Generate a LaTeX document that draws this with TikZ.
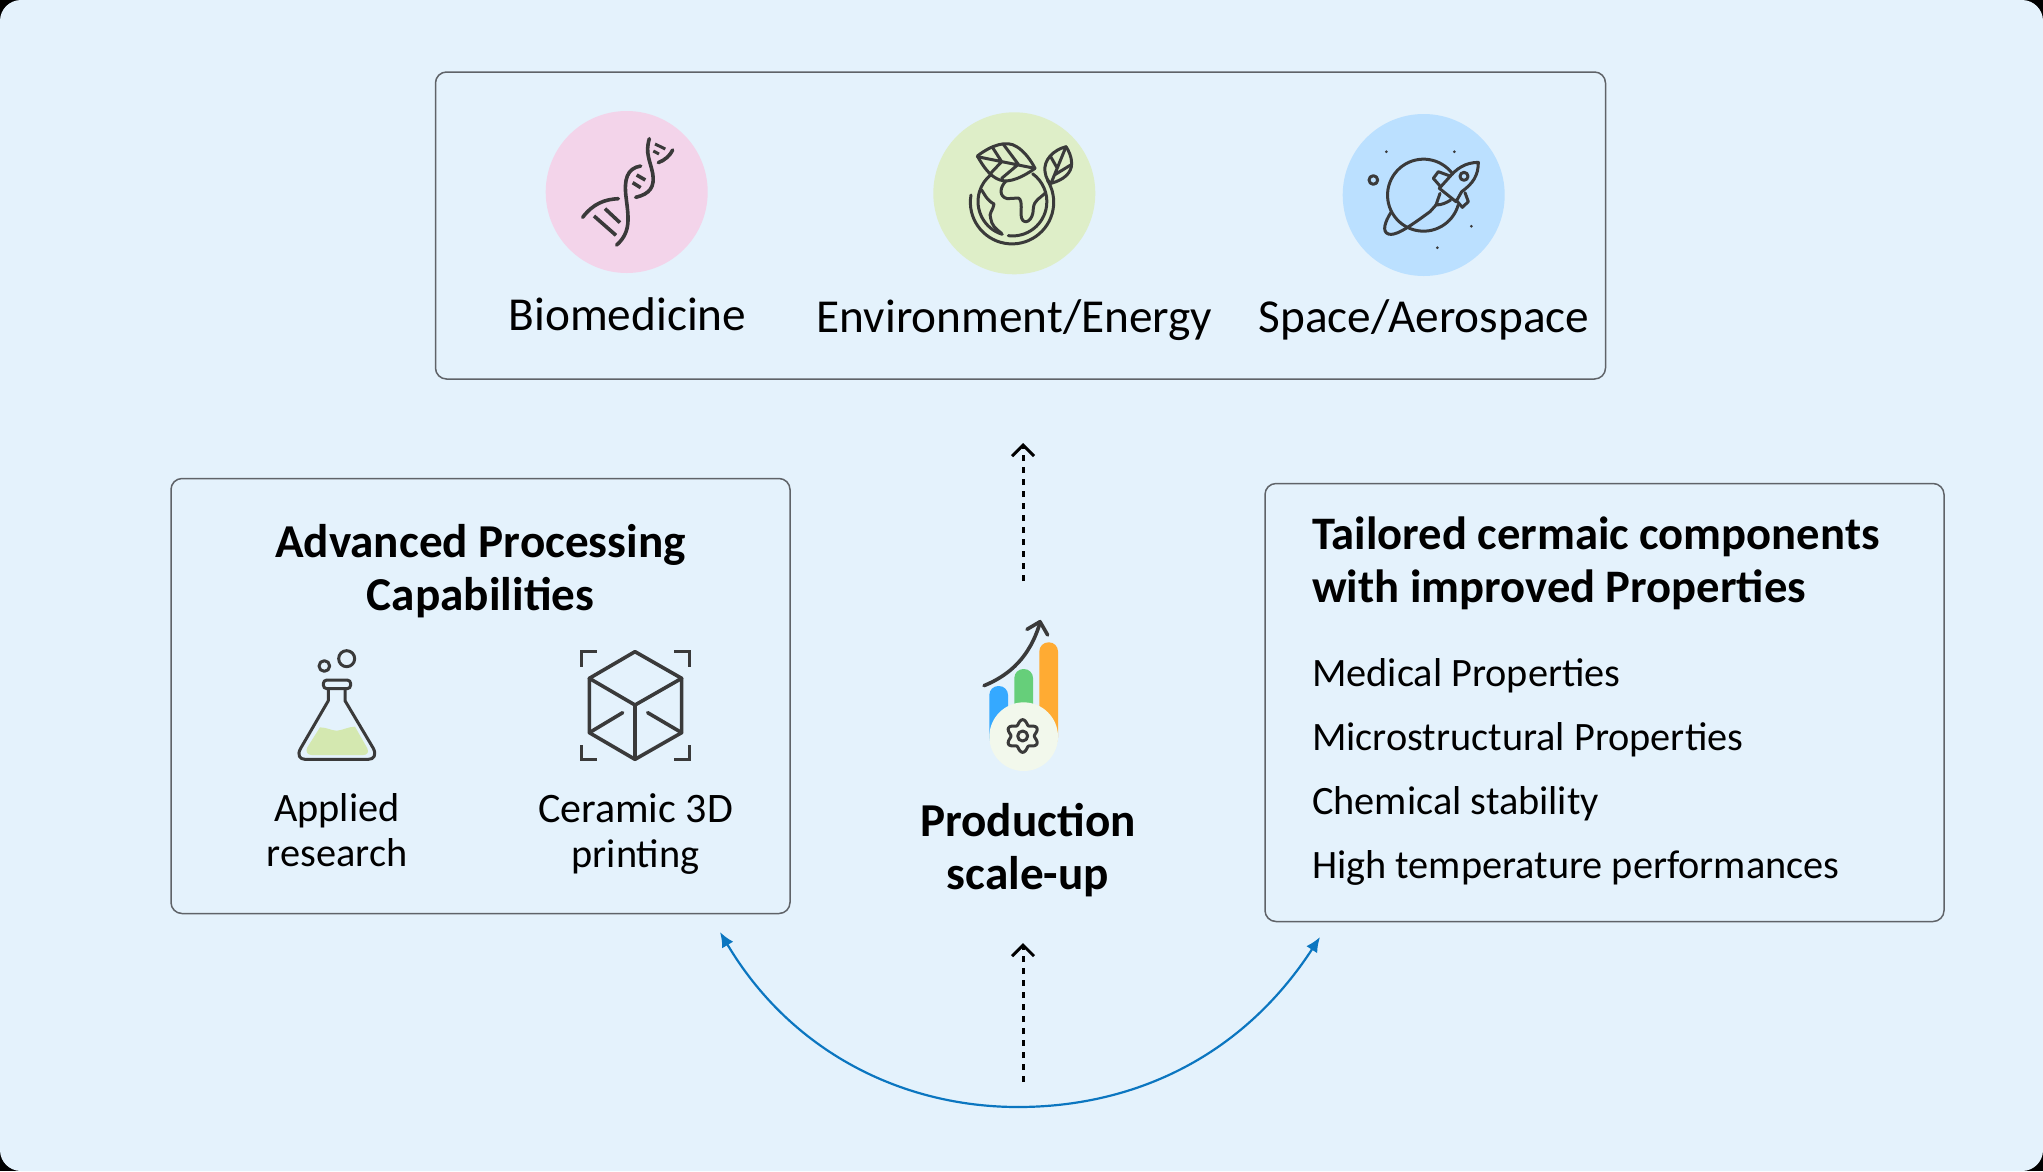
\documentclass[tikz,border=0pt]{standalone}
\usepackage{fontspec}
\setmainfont{Carlito}
\usetikzlibrary{arrows.meta}
\definecolor{bgblue}{HTML}{E4F2FC}
\definecolor{boxline}{HTML}{5F6368}
\definecolor{iconink}{HTML}{3A3A3A}
\definecolor{arcblue}{HTML}{0B76C0}
\definecolor{pinkdisc}{HTML}{F3D4EA}
\definecolor{greendisc}{HTML}{DEEEC8}
\definecolor{bluedisc}{HTML}{BBE0FF}
\definecolor{liquid}{HTML}{D4E8B0}
\definecolor{barblue}{HTML}{35A9FF}
\definecolor{bargreen}{HTML}{66CF7A}
\definecolor{barorange}{HTML}{FFAB33}
\definecolor{geardisc}{HTML}{F2F8EC}
\tikzset{
  panel/.style={draw=boxline,line width=1.5pt,rounded corners=11pt,inner sep=0pt,fill=none},
  disc/.style={circle,minimum size=162pt,inner sep=0pt,draw=none},
  ink/.style={draw=iconink,line width=3.6pt,line cap=round,line join=round},
  thinink/.style={draw=iconink,line width=3pt,line cap=round,line join=round},
  bodytext/.style={font=\fontsize{40.3}{45}\selectfont,inner sep=0pt,text=black},
  toptext/.style={font=\fontsize{47.3}{54}\selectfont,inner sep=0pt,text=black},
  headtext/.style={font=\fontsize{47.2}{53}\selectfont\bfseries,inner sep=0pt,text=black},
  flowarrow/.style={draw=black,line width=3pt,dash pattern=on 6pt off 6pt,-{Straight Barb[length=11pt,width=22pt,line width=3pt]}},
  curvearrow/.style={draw=arcblue,line width=2.2pt,-{Latex[length=15pt,width=13pt]}}
}
\begin{document}
\begin{tikzpicture}[x=1pt,y=1pt,yscale=-1]
\useasboundingbox (0,0) rectangle (2043,1171);
\fill[black] (0,0) rectangle (2043,1171);
\fill[bgblue,rounded corners=21pt] (0,0) rectangle (2043,1171);

% panels
\node[panel,minimum width=1170pt,minimum height=307pt] (top) at (1020.5,225.5) {};
\node[panel,minimum width=619pt,minimum height=435pt] (left) at (480.5,696) {};
\node[panel,minimum width=679pt,minimum height=438pt] (right) at (1604.5,702.5) {};

% discs
\node[disc,fill=pinkdisc] (biodisc) at (626.7,192) {};
\node[disc,fill=greendisc] (envdisc) at (1014.3,193.3) {};
\node[disc,fill=bluedisc] (spacedisc) at (1423.7,195) {};

% DNA
\begin{scope}[shift={(520,90)},scale=1/3]
\draw[ink] (188,382) .. controls (220,340) and (255,328) .. (295,326);
\draw[ink] (290,465) .. controls (335,425) and (325,380) .. (318,320) .. controls (312,270) and (320,235) .. (362,228);
\draw[ink] (347,322) .. controls (390,312) and (405,290) .. (398,250) .. controls (390,210) and (375,190) .. (388,146);
\draw[ink] (415,218) .. controls (435,210) and (450,197) .. (458,180);
\draw[ink,line cap=butt] (222,378)--(288,436) (255,356)--(300,398) (350,255)--(376,270) (338,278)--(362,293);
\draw[thinink,line cap=butt] (405,162)--(436,177) (400,183)--(417,192);
\end{scope}

% Earth with leaves
\begin{scope}[shift={(920,100)},scale=1/3]
\draw[thinink] (172,168) .. controls (215,135) and (260,120) .. (290,140) .. controls (315,155) and (335,185) .. (345,205) .. controls (310,230) and (270,250) .. (240,240) .. controls (210,230) and (190,200) .. (172,168) -- cycle;
\draw[thinink] (172,170)--(295,195)--(345,205) (218,143)--(245,185) (250,133)--(295,193) (210,222)--(245,185) (245,235)--(295,193);
\draw[thinink] (438,140) .. controls (400,150) and (370,180) .. (375,215) .. controls (378,235) and (385,245) .. (393,250) .. controls (430,240) and (455,220) .. (455,190) .. controls (455,170) and (445,150) .. (438,140) -- cycle;
\draw[thinink] (438,140)--(393,250) (392,170)--(412,205) (452,195)--(403,225);
\draw[thinink] (265,407) arc[start angle=97,end angle=-54,radius=103];
\draw[thinink] (247,403) arc[start angle=107,end angle=231,radius=103];
\draw[thinink] (153,285) arc[start angle=190,end angle=-32,radius=125];
\draw[thinink] (258,243) .. controls (240,260) and (235,290) .. (262,296) -- (295,294) .. controls (310,300) and (300,340) .. (305,355) .. controls (312,375) and (340,365) .. (340,325) .. controls (342,300) and (360,295) .. (375,280);
\draw[thinink] (185,270) .. controls (195,285) and (200,300) .. (222,312) .. controls (220,330) and (205,340) .. (212,355) .. controls (215,375) and (225,385) .. (245,400);
\end{scope}

% Planet and rocket
\begin{scope}[shift={(1330,100)},scale=1/3]
\draw[thinink] (368,222) arc[start angle=-36,end angle=-344,radius=108];
\draw[thinink] (183,337) .. controls (165,365) and (155,395) .. (175,402) .. controls (195,408) and (225,390) .. (300,335) -- (318,315);
\draw[thinink] (445,187) .. controls (405,188) and (380,205) .. (355,235) -- (328,265) -- (378,305) -- (395,275) .. controls (430,250) and (445,225) .. (445,187) -- cycle;
\draw[thinink] (360,228) -- (325,215) -- (310,235) -- (330,258);
\draw[thinink] (405,278) -- (415,305) -- (397,322) -- (378,300);
\draw[thinink] (330,280) -- (318,315) .. controls (335,315) and (350,308) .. (362,300);
\draw[thinink] (402,229) circle[radius=12];
\draw[thinink] (130,240) circle[radius=13];
\fill[iconink] (169,155) circle[radius=4.5] (373,155) circle[radius=4.5] (424,379) circle[radius=4.5] (322,443) circle[radius=4.5];
\end{scope}

% Flask and cube
\begin{scope}[shift={(280,640)},scale=1/3]
\fill[liquid] (120,262) .. controls (140,262) and (155,272) .. (170,272) .. controls (185,272) and (205,260) .. (225,260) -- (262,325) .. controls (268,338) and (260,345) .. (250,345) -- (95,345) .. controls (83,345) and (75,335) .. (82,322) -- cycle;
\draw[thinink] (145,148)--(145,182)--(62,325) .. controls (50,345) and (60,358) .. (75,358) -- (265,358) .. controls (282,358) and (290,345) .. (280,325) -- (195,182)--(195,148);
\draw[thinink,rounded corners=3.5pt] (130,120) rectangle (212,146);
\draw[thinink] (133,78) circle[radius=16];
\draw[thinink] (200,56) circle[radius=24];
\draw[ink] (1065,35)--(928,115)--(1065,195)--(1205,115)--cycle;
\draw[ink] (928,115)--(928,278)--(1065,358)--(1205,278)--(1205,115);
\draw[ink] (1065,195)--(1065,358) (928,278)--(1028,218) (1205,278)--(1103,218);
\draw[ink,line cap=butt,line width=3.6pt,line join=miter] (905,80)--(905,35)--(950,35) (1183,35)--(1228,35)--(1228,80) (905,315)--(905,358)--(950,358) (1183,358)--(1228,358)--(1228,315);
\end{scope}

% Chart with gear
\begin{scope}[shift={(960,600)},scale=1/3]
\fill[barblue,rounded corners=9pt] (88,258) rectangle (144,440);
\fill[bargreen,rounded corners=9pt] (163,207) rectangle (219,440);
\fill[barorange,rounded corners=9pt] (238,127) rectangle (294,440);
\fill[geardisc] (191,410) circle[radius=103];
\draw[ink] (72,257) .. controls (150,225) and (210,170) .. (240,68);
\draw[ink] (201,88)--(240,65)--(263,105);
\begin{scope}[shift={(188,408)}]
\draw[thinink] plot[domain=0:360,samples=73,smooth] (\x:{42+7*cos(6*(\x-90))}) -- cycle;
\draw[thinink] (0,0) circle[radius=15];
\end{scope}
\end{scope}

% text
\node[toptext,anchor=base] (biolabel) at (627.5,330) {Biomedicine};
\node[toptext,anchor=base] (envlabel) at (1014.5,332) {Environment/Energy};
\node[toptext,anchor=base] (spacelabel) at (1424,332) {Space/Aerospace};
\node[headtext,anchor=base,align=center] (lefttitle) at (480.5,610) {Advanced Processing\\Capabilities};
\node[bodytext,anchor=base,align=center] (applied) at (337,866) {Applied\\research};
\node[bodytext,anchor=base,align=center] (ceramic) at (635.5,867) {{\fontsize{42}{45}\selectfont Ceramic 3D}\\printing};
\node[headtext,font=\fontsize{46.6}{53}\selectfont\bfseries,anchor=base west,align=left] (righttitle) at (1312,602) {Tailored cermaic components\\with improved Properties};
\node[bodytext,anchor=base west] (item1) at (1312,686) {Medical Properties};
\node[bodytext,anchor=base west] (item2) at (1312,750) {Microstructural Properties};
\node[bodytext,anchor=base west] (item3) at (1312,814.5) {Chemical stability};
\node[bodytext,anchor=base west] (item4) at (1312,878) {High temperature performances};
\node[headtext,anchor=base,align=center] (scaleup) at (1028,889) {Production\\scale-up};

% connectors
\coordinate (uptail) at (1023,581);
\coordinate (uptip) at (1023,443);
\coordinate (lowtail) at (1023,1082);
\coordinate (lowtip) at (1023,943);
\coordinate (arcbottom) at (1018,1107);
\coordinate (arcleft) at (720,932);
\coordinate (arcright) at (1320,937);
\draw[flowarrow] (uptail) -- (uptip);
\draw[flowarrow] (lowtail) -- (lowtip);
\draw[curvearrow] (arcbottom) .. controls (900,1107) and (790,1050) .. (arcleft);
\draw[curvearrow] (arcbottom) .. controls (1130,1107) and (1240,1060) .. (arcright);
\end{tikzpicture}
\end{document}
